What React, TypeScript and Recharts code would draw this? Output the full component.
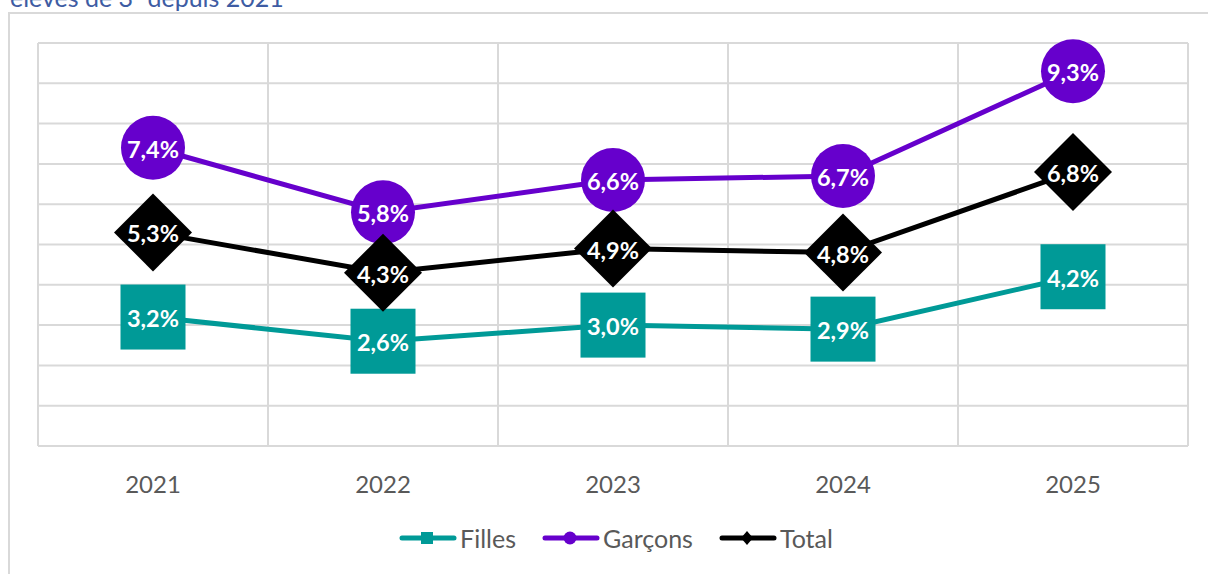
import React from 'react';
import { LineChart, Line, XAxis, YAxis, CartesianGrid, Legend, LabelList } from 'recharts';

const years = ['2021', '2022', '2023', '2024', '2025'];
const filles = [3.2, 2.6, 3.0, 2.9, 4.2];
const garcons = [7.4, 5.8, 6.6, 6.7, 9.3];
const total = [5.3, 4.3, 4.9, 4.8, 6.8];
const yTicks = [0, 1, 2, 3, 4, 5, 6, 7, 8, 9, 10];
const yDomain = [0, 10];
const seriesNames = ['Filles', 'Garçons', 'Total'];
const titleText = 'élèves de 3';
const titleSup = 'e';
const titleRest = ' depuis 2021';

const TEAL = '#009a97';
const PURPLE = '#6600cc';
const BLACK = '#000000';
const GRID = '#d9d9d9';
const FONT = 'Lato, "Noto Sans", sans-serif';

const data = years.map((y, i) => ({ year: y, filles: filles[i], garcons: garcons[i], total: total[i] }));

const fmt = (v: number) => v.toFixed(1).replace('.', ',') + '%';

const renderLabel = (props: any) => {
  const { x, y, value, index } = props;
  return (
    <text
      key={`lbl-${index}`}
      x={x}
      y={y}
      dy={1}
      textAnchor="middle"
      dominantBaseline="central"
      fill="#ffffff"
      fontSize={23.5}
      fontWeight={700}
      fontFamily={FONT}
    >
      {fmt(Number(value))}
    </text>
  );
};

const squareDot = (props: any) => {
  const { cx, cy, index } = props;
  if (cx == null || cy == null) return <g key={`sq-${index}`} />;
  return <rect key={`sq-${index}`} x={cx - 32.5} y={cy - 32.5} width={65} height={65} fill={TEAL} />;
};
const circleDot = (props: any) => {
  const { cx, cy, index } = props;
  if (cx == null || cy == null) return <g key={`ci-${index}`} />;
  return <circle key={`ci-${index}`} cx={cx} cy={cy} r={32} fill={PURPLE} />;
};
const diamondDot = (props: any) => {
  const { cx, cy, index } = props;
  if (cx == null || cy == null) return <g key={`di-${index}`} />;
  const d = 39;
  return (
    <polygon
      key={`di-${index}`}
      points={`${cx},${cy - d} ${cx + d},${cy} ${cx},${cy + d} ${cx - d},${cy}`}
      fill={BLACK}
    />
  );
};

const legendIcon = (kind: number, color: string) => {
  const marker =
    kind === 0 ? (
      <rect x={22} y={4} width={12} height={12} fill={color} />
    ) : kind === 1 ? (
      <circle cx={28} cy={10} r={6.5} fill={color} />
    ) : (
      <polygon points="28,3 34,10 28,17 22,10" fill={color} />
    );
  return (
    <svg width={58} height={20} style={{ display: 'block' }}>
      <line x1={3} y1={10} x2={55} y2={10} stroke={color} strokeWidth={5} strokeLinecap="round" />
      {marker}
    </svg>
  );
};

const legendColors = [TEAL, PURPLE, BLACK];

const renderLegend = () => (
  <div
    style={{
      display: 'flex',
      justifyContent: 'center',
      alignItems: 'center',
      height: 36,
      paddingLeft: 6,
      fontFamily: FONT,
      fontSize: 25,
      color: '#595959',
    }}
  >
    {seriesNames.map((name, i) => (
      <div key={name} style={{ display: 'flex', alignItems: 'center', marginRight: i < seriesNames.length - 1 ? 26 : 0 }}>
        {legendIcon(i, legendColors[i])}
        <span style={{ marginLeft: 3 }}>{name}</span>
      </div>
    ))}
  </div>
);

export default function App() {
  return (
    <div
      style={{
        position: 'absolute',
        left: 0,
        top: 0,
        width: 1208,
        height: 574,
        overflow: 'hidden',
        background: '#ffffff',
        fontFamily: FONT,
      }}
    >
      <div
        style={{
          position: 'absolute',
          left: 10,
          top: -15,
          fontSize: 25,
          lineHeight: '25px',
          color: '#3e5ca3',
          whiteSpace: 'nowrap',
        }}
      >
        {titleText}
        <sup style={{ fontSize: 15, verticalAlign: 'top', lineHeight: '15px' }}>{titleSup}</sup>
        {titleRest}
      </div>
      <div
        style={{
          position: 'absolute',
          left: 8,
          top: 12,
          width: 1300,
          height: 700,
          border: `2px solid ${GRID}`,
          boxSizing: 'border-box',
        }}
      />
      <div style={{ position: 'absolute', left: 0, top: 0 }}>
        <LineChart width={1208} height={574} data={data} margin={{ top: 43, right: 20, left: 38, bottom: 18 }}>
          <CartesianGrid
            stroke={GRID}
            strokeWidth={2}
            verticalCoordinatesGenerator={({ offset }: any) =>
              Array.from({ length: years.length + 1 }, (_, i) => offset.left + (i * offset.width) / years.length)
            }
            horizontalCoordinatesGenerator={({ offset }: any) =>
              yTicks.map(
                (t) => offset.top + offset.height * (1 - (t - yDomain[0]) / (yDomain[1] - yDomain[0]))
              )
            }
          />
          <XAxis
            dataKey="year"
            scale="band"
            axisLine={false}
            tickLine={false}
            height={74}
            tickMargin={24}
            tick={{ fill: '#595959', fontSize: 24, fontFamily: FONT }}
          />
          <YAxis width={0} domain={yDomain} ticks={yTicks} tick={false} axisLine={false} tickLine={false} />
          <Legend verticalAlign="bottom" content={renderLegend} wrapperStyle={{ height: 36 }} />
          <Line
            name={seriesNames[0]}
            dataKey="filles"
            stroke={TEAL}
            strokeWidth={5}
            dot={squareDot}
            activeDot={false}
            isAnimationActive={false}
          >
            <LabelList dataKey="filles" content={renderLabel} />
          </Line>
          <Line
            name={seriesNames[1]}
            dataKey="garcons"
            stroke={PURPLE}
            strokeWidth={5}
            dot={circleDot}
            activeDot={false}
            isAnimationActive={false}
          >
            <LabelList dataKey="garcons" content={renderLabel} />
          </Line>
          <Line
            name={seriesNames[2]}
            dataKey="total"
            stroke={BLACK}
            strokeWidth={5}
            dot={diamondDot}
            activeDot={false}
            isAnimationActive={false}
          >
            <LabelList dataKey="total" content={renderLabel} />
          </Line>
        </LineChart>
      </div>
    </div>
  );
}
